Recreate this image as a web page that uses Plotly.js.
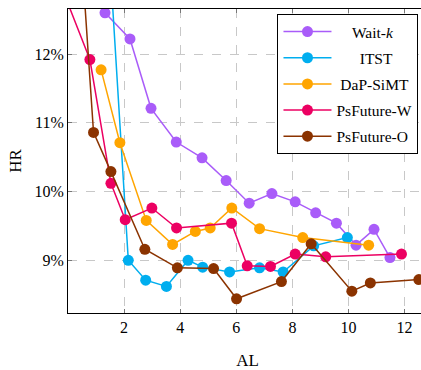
<!DOCTYPE html>
<html>
<head>
<meta charset="utf-8">
<script src="https://cdn.plot.ly/plotly-3.0.1.min.js"></script>
<style>
html,body{margin:0;padding:0;overflow:hidden;background:#fff;}
#chart{width:440px;height:370px;}
</style>
</head>
<body>
<div id="chart"></div>
<script>
// Data (AL vs HR %)
const waitkAL = [1.32, 2.21, 2.96, 3.86, 4.78, 5.64, 6.46, 7.27, 8.10, 8.83, 9.57, 10.27, 10.91, 11.48];
const waitkHR = [12.60, 12.22, 11.21, 10.72, 10.49, 10.16, 9.83, 9.97, 9.85, 9.69, 9.54, 9.22, 9.45, 9.04];

const itstAL = [1.47, 2.15, 2.77, 3.51, 4.28, 4.80, 5.76, 6.83, 7.67, 8.76, 9.96];
const itstHR = [13.50, 9.00, 8.71, 8.62, 9.00, 8.90, 8.83, 8.89, 8.83, 9.21, 9.33];

const dapAL = [1.18, 1.85, 2.79, 3.73, 4.54, 5.07, 5.84, 6.83, 8.37, 10.72];
const dapHR = [11.77, 10.71, 9.58, 9.23, 9.42, 9.47, 9.76, 9.46, 9.33, 9.22];

const pswAL = [-0.16, 0.78, 1.53, 2.04, 2.99, 3.87, 5.83, 6.39, 7.22, 8.10, 9.19, 11.89];
const pswHR = [12.90, 11.92, 10.12, 9.59, 9.76, 9.47, 9.54, 8.92, 8.91, 9.09, 9.05, 9.09];

const psoAL = [0.54, 0.91, 1.53, 2.74, 3.90, 5.19, 6.01, 7.61, 8.67, 10.12, 10.78, 12.51];
const psoHR = [13.10, 10.86, 10.29, 9.16, 8.89, 8.88, 8.44, 8.69, 9.24, 8.55, 8.67, 8.72];

const seriesNames = ['Wait-<i>k</i>', 'ITST', 'DaP-SiMT', 'PsFuture-W', 'PsFuture-O'];
const seriesPad = [4, 6, 1, 0, 0]; // leading spaces to centre legend text as in the reference
const seriesColors = ['#A95CF9', '#00AEEF', '#FFA500', '#EC0062', '#8B3300'];
const yTickVals = [9, 10, 11, 12];
const yTickText = ['9%', '10%', '11%', '12%'];
const xTickVals = [2, 4, 6, 8, 10, 12];

const xs = [waitkAL, itstAL, dapAL, pswAL, psoAL];
const ys = [waitkHR, itstHR, dapHR, pswHR, psoHR];

const traces = xs.map((x, i) => ({
  x: x, y: ys[i], name: '\u00A0'.repeat(seriesPad[i]) + seriesNames[i],
  legendgroup: 'g' + i,
  type: 'scatter', mode: 'lines+markers',
  line: {color: seriesColors[i], width: 1.5},
  marker: {color: seriesColors[i], size: 11}
}));

const serif = '"Liberation Serif", "Times New Roman", serif';
const axisCommon = {
  showline: true, linecolor: '#000', linewidth: 1, mirror: 'ticks',
  ticks: 'inside', ticklen: 4, tickcolor: '#777', tickwidth: 1,
  showgrid: true, gridcolor: '#c8c8c8', griddash: 'dash', gridwidth: 1,
  zeroline: false, tickfont: {family: serif, size: 16, color: '#000'}
};

const layout = {
  width: 440, height: 370,
  margin: {l: 68, r: 12.5, t: 9, b: 57},
  paper_bgcolor: '#fff', plot_bgcolor: '#fff',
  font: {family: serif, color: '#000'},
  showlegend: true,
  legend: {
    x: 0.5835, y: 0.9835, xanchor: 'left', yanchor: 'top',
    bgcolor: '#fff', bordercolor: '#000', borderwidth: 1,
    font: {family: serif, size: 15.5, color: '#000'},
    itemwidth: 48, traceorder: 'grouped', tracegroupgap: 3
  },
  xaxis: Object.assign({}, axisCommon, {
    range: [0, 12.8], tickvals: xTickVals,
    title: {text: 'AL', font: {family: serif, size: 17}, standoff: 18}
  }),
  yaxis: Object.assign({}, axisCommon, {
    range: [8.233, 12.655], tickvals: yTickVals, ticktext: yTickText,
    title: {text: 'HR', font: {family: serif, size: 17}, standoff: 8}
  })
};

Plotly.newPlot('chart', traces, layout, {displayModeBar: false, staticPlot: true});
</script>
</body>
</html>
